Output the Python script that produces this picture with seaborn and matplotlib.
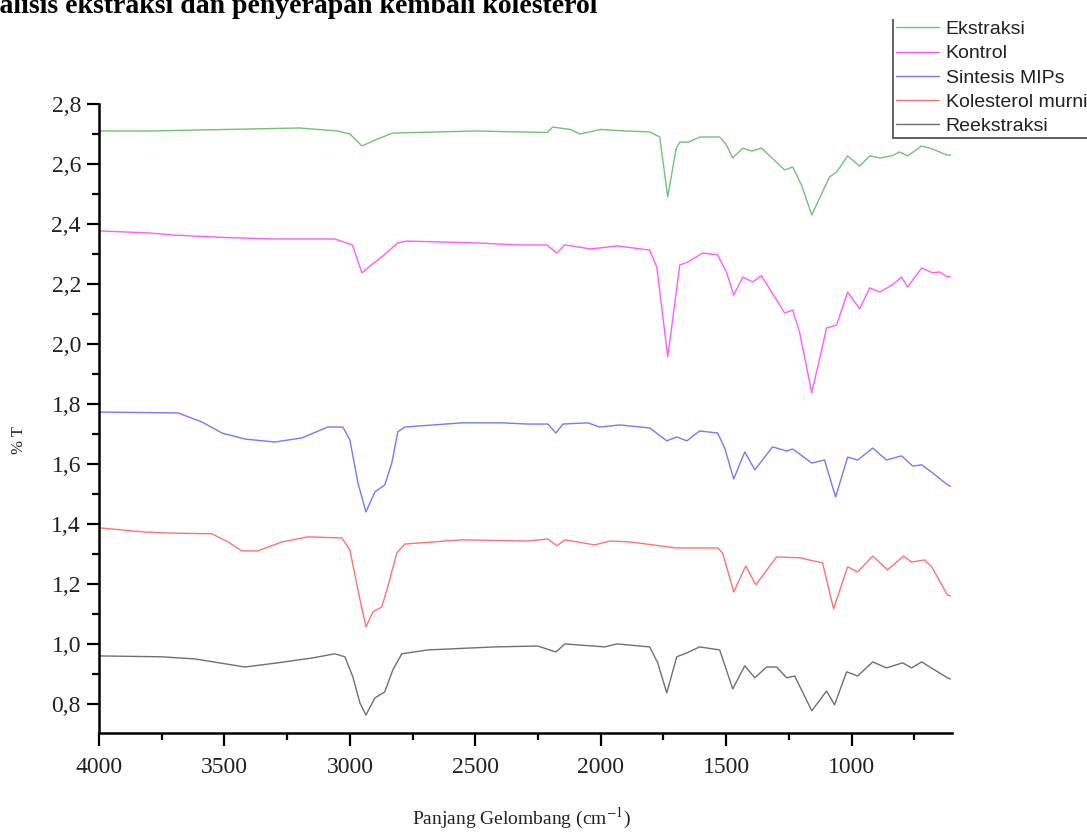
import numpy as np
import pandas as pd
import matplotlib
matplotlib.use("Agg")
import matplotlib.pyplot as plt
import seaborn as sns
from matplotlib.ticker import FixedLocator, MultipleLocator, FixedFormatter
from matplotlib.transforms import Bbox, TransformedBbox

# ---------------- data ----------------
series_names = ["Ekstraksi", "Kontrol", "Sintesis MIPs", "Kolesterol murni", "Reekstraksi"]

ekstraksi_w = [4000, 3800, 3500, 3200, 3050, 3000, 2952, 2900, 2829, 2500, 2215, 2191, 2120,
               2084, 2000, 1900, 1805, 1765, 1733, 1700, 1685, 1650, 1605, 1526, 1500, 1474,
               1434, 1398, 1359, 1267, 1235, 1200, 1159, 1120, 1088, 1060, 1016, 968, 928, 888,
               841, 809, 777, 721, 677, 622, 606]
ekstraksi_t = [2.71, 2.71, 2.715, 2.72, 2.71, 2.70, 2.66, 2.68, 2.703, 2.71, 2.705, 2.723, 2.715,
               2.70, 2.715, 2.71, 2.707, 2.69, 2.49, 2.65, 2.673, 2.673, 2.69, 2.69, 2.665, 2.62,
               2.653, 2.643, 2.653, 2.58, 2.59, 2.53, 2.43, 2.50, 2.557, 2.573, 2.627, 2.593,
               2.627, 2.62, 2.627, 2.64, 2.627, 2.66, 2.65, 2.63, 2.63]

kontrol_w = [4000, 3800, 3700, 3500, 3300, 3100, 3060, 2990, 2952, 2920, 2873, 2809, 2773, 2500,
             2330, 2215, 2175, 2143, 2044, 2004, 1936, 1805, 1777, 1733, 1685, 1653, 1594, 1534,
             1498, 1470, 1434, 1394, 1359, 1267, 1235, 1207, 1159, 1100, 1060, 1016, 968, 928,
             888, 837, 801, 777, 721, 677, 649, 618, 606]
kontrol_t = [2.377, 2.37, 2.363, 2.355, 2.35, 2.35, 2.35, 2.33, 2.237, 2.26, 2.29, 2.337, 2.343,
             2.337, 2.33, 2.33, 2.303, 2.33, 2.317, 2.32, 2.327, 2.313, 2.257, 1.957, 2.263,
             2.273, 2.303, 2.297, 2.237, 2.163, 2.223, 2.207, 2.227, 2.103, 2.113, 2.037, 1.837,
             2.053, 2.063, 2.173, 2.117, 2.187, 2.173, 2.197, 2.223, 2.19, 2.253, 2.237, 2.24,
             2.223, 2.225]

sintesis_w = [4000, 3685, 3590, 3510, 3418, 3299, 3191, 3088, 3028, 3000, 2968, 2936, 2900, 2861,
              2833, 2809, 2781, 2554, 2394, 2291, 2211, 2179, 2151, 2052, 2004, 1924, 1805, 1737,
              1697, 1657, 1606, 1534, 1506, 1470, 1426, 1386, 1315, 1259, 1235, 1159, 1108, 1064,
              1016, 976, 916, 861, 801, 757, 721, 677, 622, 606]
sintesis_t = [1.773, 1.77, 1.74, 1.703, 1.683, 1.673, 1.687, 1.723, 1.723, 1.68, 1.537, 1.44,
              1.507, 1.53, 1.603, 1.707, 1.723, 1.737, 1.737, 1.733, 1.733, 1.703, 1.733, 1.737,
              1.723, 1.73, 1.72, 1.677, 1.69, 1.677, 1.71, 1.703, 1.653, 1.55, 1.64, 1.58, 1.657,
              1.643, 1.65, 1.603, 1.613, 1.49, 1.623, 1.613, 1.653, 1.613, 1.627, 1.593, 1.597,
              1.57, 1.533, 1.525]

kolesterol_w = [4000, 3817, 3737, 3550, 3486, 3430, 3367, 3271, 3167, 3032, 3000, 2968, 2936, 2908,
                2873, 2849, 2813, 2781, 2554, 2291, 2211, 2175, 2143, 2024, 1964, 1884, 1697, 1534,
                1514, 1470, 1422, 1382, 1299, 1207, 1116, 1072, 1016, 976, 916, 857, 793, 761,
                709, 681, 618, 606]
kolesterol_t = [1.387, 1.373, 1.37, 1.367, 1.34, 1.31, 1.31, 1.34, 1.357, 1.353, 1.313, 1.18,
                1.057, 1.107, 1.123, 1.19, 1.303, 1.333, 1.347, 1.343, 1.35, 1.327, 1.347, 1.33,
                1.343, 1.34, 1.32, 1.32, 1.303, 1.173, 1.26, 1.197, 1.29, 1.287, 1.27, 1.117,
                1.257, 1.24, 1.293, 1.247, 1.293, 1.273, 1.28, 1.257, 1.163, 1.16]

reekstraksi_w = [4000, 3749, 3618, 3418, 3287, 3151, 3060, 3020, 2988, 2960, 2936, 2900, 2861,
                 2829, 2793, 2689, 2422, 2251, 2179, 2143, 1984, 1936, 1805, 1773, 1737, 1697,
                 1657, 1606, 1526, 1474, 1426, 1386, 1339, 1299, 1259, 1227, 1159, 1100, 1068,
                 1020, 976, 916, 861, 797, 761, 721, 618, 606]
reekstraksi_t = [0.96, 0.957, 0.95, 0.923, 0.937, 0.953, 0.967, 0.957, 0.89, 0.803, 0.763, 0.82,
                 0.84, 0.913, 0.967, 0.98, 0.99, 0.993, 0.973, 1.0, 0.99, 1.0, 0.99, 0.937, 0.837,
                 0.957, 0.97, 0.99, 0.98, 0.85, 0.927, 0.887, 0.923, 0.923, 0.887, 0.893, 0.777,
                 0.843, 0.797, 0.907, 0.893, 0.94, 0.92, 0.937, 0.92, 0.94, 0.887, 0.883]

x_ticks = [4000, 3500, 3000, 2500, 2000, 1500, 1000]
x_tick_labels = ["4000", "3500", "3000", "2500", "2000", "1500", "1000"]
y_ticks = [0.8, 1.0, 1.2, 1.4, 1.6, 1.8, 2.0, 2.2, 2.4, 2.6, 2.8]
y_tick_labels = ["0,8", "1,0", "1,2", "1,4", "1,6", "1,8", "2,0", "2,2", "2,4", "2,6", "2,8"]

colors = ["#74c274", "#ff5cff", "#7777ff", "#ff7373", "#707070"]

frames = []
for name, w, t in zip(series_names,
                      [ekstraksi_w, kontrol_w, sintesis_w, kolesterol_w, reekstraksi_w],
                      [ekstraksi_t, kontrol_t, sintesis_t, kolesterol_t, reekstraksi_t]):
    frames.append(pd.DataFrame({"w": w, "T": t, "series": name}))
df = pd.concat(frames, ignore_index=True)

# ---------------- figure ----------------
sns.set_theme(style="white")
plt.rcParams["font.family"] = ["Liberation Serif", "DejaVu Serif"]
plt.rcParams["mathtext.fontset"] = "stix"

W, H = 1087, 833
fig = plt.figure(figsize=(W / 100, H / 100), dpi=100)
ax_l, ax_r, ax_t, ax_b = 99, 952, 104, 733
ax = fig.add_axes([ax_l / W, 1 - ax_b / H, (ax_r - ax_l) / W, (ax_b - ax_t) / H])

sns.lineplot(data=df, x="w", y="T", hue="series", hue_order=series_names,
             palette=colors, estimator=None, sort=False, linewidth=1.0, ax=ax)

ax.set_xlim(4000, 600)
ax.set_ylim(0.703, 2.8)

for side in ["top", "right"]:
    ax.spines[side].set_visible(False)
for side in ["left", "bottom"]:
    ax.spines[side].set_color("black")
    ax.spines[side].set_linewidth(1.8)

ax.xaxis.set_major_locator(FixedLocator(x_ticks))
ax.xaxis.set_major_formatter(FixedFormatter(x_tick_labels))
ax.xaxis.set_minor_locator(MultipleLocator(250))
ax.yaxis.set_major_locator(FixedLocator(y_ticks))
ax.yaxis.set_major_formatter(FixedFormatter(y_tick_labels))
ax.yaxis.set_minor_locator(MultipleLocator(0.1))

ax.tick_params(axis="both", which="major", direction="out", length=9, width=1.6,
               color="black", labelsize=17, labelcolor="#222222", bottom=True, left=True)
ax.tick_params(axis="both", which="minor", direction="out", length=5, width=1.6,
               color="black", bottom=True, left=True)
ax.tick_params(axis="x", which="major", pad=8)
ax.tick_params(axis="y", which="major", pad=4)

ax.set_xlabel(r"Panjang Gelombang (cm$^{-1}$)", fontsize=14, color="#222222")
ax.set_ylabel("% T", fontsize=12, color="#222222")
ax.xaxis.set_label_coords((522 - ax_l) / (ax_r - ax_l), -(806 - ax_b) / (ax_b - ax_t))
ax.yaxis.set_label_coords(-(99 - 27) / (ax_r - ax_l), (ax_b - 440) / (ax_b - ax_t))

# legend (partly cut off at the right edge, like the reference)
handles, labels = ax.get_legend_handles_labels()
leg = ax.legend(handles, labels, loc="lower left",
                bbox_to_anchor=(893 / W, 1 - 138 / H), bbox_transform=fig.transFigure,
                prop={"family": ["Liberation Sans", "DejaVu Sans"], "size": 14},
                frameon=True, fancybox=False, shadow=False, framealpha=1,
                edgecolor="#555555", handlelength=2.2, handletextpad=0.35,
                borderpad=0.15, labelspacing=0.34, borderaxespad=0)
leg.get_frame().set_linewidth(1.3)
for lh in leg.get_lines():
    lh.set_linewidth(1.0)
for txt in leg.get_texts():
    txt.set_color("#222222")
frame = leg.get_frame()
frame.set_clip_on(True)
frame.set_clip_box(TransformedBbox(Bbox([[0, 0], [1, 1 - 19 / H]]), fig.transFigure))

# title, cut off at the top-left corner as in the reference
fig.text(-36 / W, 1 - 13 / H, "Analisis ekstraksi dan penyerapan kembali kolesterol",
         fontsize=20, fontweight="bold", color="black", va="baseline", ha="left")

fig.savefig("out.png", dpi=100)
